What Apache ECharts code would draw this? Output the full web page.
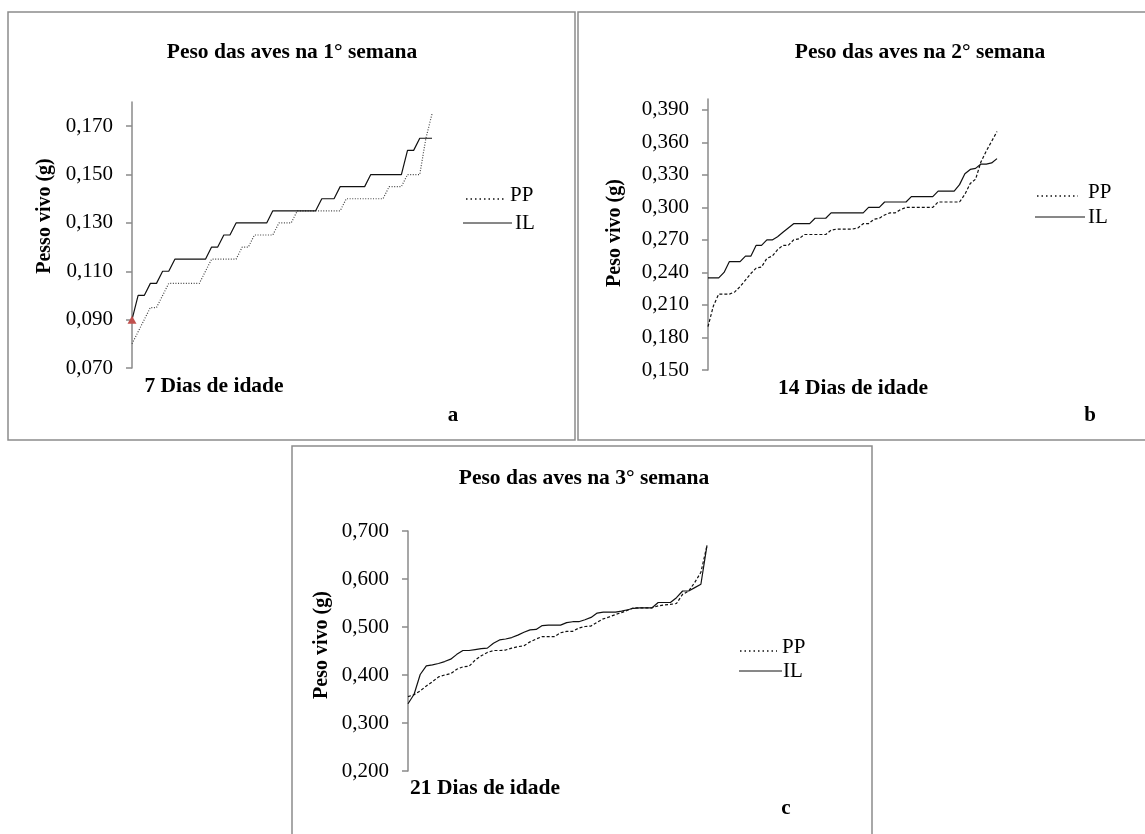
<!DOCTYPE html>
<html><head><meta charset="utf-8">
<script src="https://cdn.jsdelivr.net/npm/echarts@6/dist/echarts.min.js"></script>
<style>html,body{margin:0;padding:0;background:#fff}#c{width:1145px;height:834px}</style>
</head><body><div id="c"></div>
<script>
// ---------- data ----------
const seriesNames = ['PP', 'IL'];
const titles = ['Peso das aves na 1° semana', 'Peso das aves na 2° semana', 'Peso das aves na 3° semana'];
const yNames = ['Pesso vivo (g)', 'Peso vivo (g)', 'Peso vivo (g)'];
const xNames = ['7 Dias de idade', '14 Dias de idade', '21 Dias de idade'];
const panelLetters = ['a', 'b', 'c'];

const ppA = [0.080,0.085,0.090,0.095,0.095,0.100,
  0.105,0.105,0.105,0.105,0.105,0.105,
  0.110,
  0.115,0.115,0.115,0.115,0.115,
  0.120,0.120,
  0.125,0.125,0.125,0.125,
  0.130,0.130,0.130,
  0.135,0.135,0.135,0.135,0.135,0.135,0.135,0.135,
  0.140,0.140,0.140,0.140,0.140,0.140,0.140,
  0.145,0.145,0.145,
  0.150,0.150,0.150,
  0.165,0.175];
const ilA = [0.090,0.100,0.100,0.105,0.105,0.110,0.110,
  0.115,0.115,0.115,0.115,0.115,0.115,
  0.120,0.120,
  0.125,0.125,
  0.130,0.130,0.130,0.130,0.130,0.130,
  0.135,0.135,0.135,0.135,0.135,0.135,0.135,0.135,
  0.140,0.140,0.140,
  0.145,0.145,0.145,0.145,0.145,
  0.150,0.150,0.150,0.150,0.150,0.150,
  0.160,0.160,
  0.165,0.165,0.165];

const ppB = [0.190,0.209,0.220,0.220,0.220,0.222,0.227,0.233,0.239,0.244,
  0.245,0.253,0.255,0.261,0.265,0.265,0.270,0.271,0.275,0.275,
  0.275,0.275,0.275,0.279,0.280,0.280,0.280,0.280,0.281,0.285,
  0.285,0.289,0.290,0.293,0.295,0.295,0.298,0.300,0.300,0.300,
  0.300,0.300,0.300,0.305,0.305,0.305,0.305,0.305,0.312,0.322,
  0.326,0.342,0.352,0.361,0.370];
const ilB = [0.235,0.235,0.235,0.240,0.250,0.250,0.250,0.255,0.255,0.265,
  0.265,0.270,0.270,0.273,0.277,0.281,0.285,0.285,0.285,0.285,
  0.290,0.290,0.290,0.295,0.295,0.295,0.295,0.295,0.295,0.295,
  0.300,0.300,0.300,0.305,0.305,0.305,0.305,0.305,0.310,0.310,
  0.310,0.310,0.310,0.315,0.315,0.315,0.315,0.321,0.331,0.335,
  0.336,0.340,0.340,0.341,0.345];

const ppC = [0.355,0.359,0.367,0.377,0.386,0.396,0.400,0.403,0.412,0.417,
  0.418,0.431,0.440,0.447,0.451,0.451,0.452,0.456,0.459,0.461,
  0.469,0.475,0.480,0.480,0.480,0.488,0.491,0.491,0.498,0.501,
  0.502,0.510,0.517,0.521,0.526,0.530,0.535,0.540,0.540,0.540,
  0.540,0.544,0.546,0.547,0.549,0.568,0.575,0.593,0.614,0.670];
const ilC = [0.340,0.360,0.401,0.419,0.421,0.424,0.428,0.433,0.443,0.451,
  0.451,0.453,0.455,0.456,0.466,0.473,0.475,0.478,0.483,0.489,
  0.494,0.495,0.503,0.504,0.504,0.504,0.509,0.511,0.511,0.515,
  0.520,0.529,0.531,0.531,0.531,0.533,0.536,0.539,0.540,0.540,
  0.540,0.551,0.551,0.551,0.561,0.575,0.575,0.582,0.589,0.670];

const ticksA = [0.07,0.09,0.11,0.13,0.15,0.17];
const ticksB = [0.15,0.18,0.21,0.24,0.27,0.30,0.33,0.36,0.39];
const ticksC = [0.2,0.3,0.4,0.5,0.6,0.7];
const rangeA = [0.07, 0.18];
const rangeB = [0.15, 0.40];
const rangeC = [0.2, 0.7];

// ---------- layout / style ----------
const FONT = '"Liberation Serif", "Times New Roman", serif';
const AXIS_GRAY = '#8a8a8a';
const panels = [
  { pp: ppA, il: ilA, ticks: ticksA, range: rangeA, grid: {left:132, top:102, width:300, height:266}, ppDash:[1,1.6], ppColor:'#444' },
  { pp: ppB, il: ilB, ticks: ticksB, range: rangeB, grid: {left:708, top:99, width:289, height:271}, ppDash:[3,2], ppColor:'#111' },
  { pp: ppC, il: ilC, ticks: ticksC, range: rangeC, grid: {left:408, top:531, width:299, height:240}, ppDash:[3,2], ppColor:'#111' }
];

const fmt = v => v.toFixed(3).replace('.', ',');

const grids = [], xAxes = [], yAxes = [], series = [];
panels.forEach((p, i) => {
  grids.push(Object.assign({containLabel:false}, p.grid));
  xAxes.push({
    type: 'category', gridIndex: i, boundaryGap: false, show: false,
    data: p.pp.map((_, k) => k + 1)
  });
  yAxes.push({
    type: 'value', gridIndex: i, min: p.range[0], max: p.range[1],
    splitLine: {show:false},
    axisLine: {show:true, lineStyle:{color:AXIS_GRAY, width:1.5}},
    axisTick: {show:true, inside:false, length:6, lineStyle:{color:AXIS_GRAY, width:1.5}, customValues: p.ticks},
    axisLabel: {show:true, margin:19, color:'#000', fontFamily:FONT, fontSize:21, formatter: fmt, customValues: p.ticks}
  });
  series.push({
    name: seriesNames[0], type: 'line', xAxisIndex: i, yAxisIndex: i,
    data: p.pp, symbol: 'none', silent: true,
    lineStyle: {color: p.ppColor, width: 1.2, type: p.ppDash}, z: 2
  });
  const il = {
    name: seriesNames[1], type: 'line', xAxisIndex: i, yAxisIndex: i,
    data: p.il, symbol: 'none', silent: true,
    lineStyle: {color: '#111', width: 1.2, type: 'solid'}, z: 3
  };
  if (i === 0) {
    il.markPoint = {
      symbol: 'triangle', symbolSize: [9, 8], silent: true,
      itemStyle: {color: '#c0504d'}, label: {show:false},
      data: [{coord: [0, p.il[0]]}]
    };
  }
  series.push(il);
});

// decorations
const txt = (text, x, y, size, bold, align, extra) => Object.assign({
  type: 'text', x, y, silent: true,
  style: {text, fontFamily: FONT, fontSize: size, fontWeight: bold ? 'bold' : 'normal', fill: '#000',
          textAlign: align || 'center', align: align || 'center',
          textVerticalAlign: 'middle', verticalAlign: 'middle'}
}, extra || {});

const borders = [
  {x:8, y:12, w:567, h:428},
  {x:578, y:12, w:580, h:428},
  {x:292, y:446, w:580, h:400}
];
const titlePos = [[292, 52], [920, 52], [584, 478]];
const yNamePos = [[45, 216], [615, 233], [322, 645]];
const xNamePos = [[214, 386], [853, 388], [485, 788]];
const letterPos = [[453, 416], [1090, 416], [786, 809]];
const legendPos = [
  {pp:[466,505,199], il:[463,512,223], txPP:510, txIL:515},
  {pp:[1037,1078,196], il:[1035,1085,217], txPP:1088, txIL:1088},
  {pp:[740,777,651], il:[739,782,671], txPP:782, txIL:783}
];

const graphic = [];
borders.forEach(b => graphic.push({
  type:'rect', silent:true, shape:{x:b.x, y:b.y, width:b.w, height:b.h},
  style:{fill:'none', stroke:'#8c8c8c', lineWidth:1.5}, z:-1
}));
for (let i = 0; i < 3; i++) {
  graphic.push(txt(titles[i], titlePos[i][0], titlePos[i][1], 21.5, true));
  graphic.push(txt(yNames[i], yNamePos[i][0], yNamePos[i][1], 20, true, 'center', {rotation: Math.PI/2}));
  graphic.push(txt(xNames[i], xNamePos[i][0], xNamePos[i][1], 21.5, true));
  graphic.push(txt(panelLetters[i], letterPos[i][0], letterPos[i][1], 21, true));
  const L = legendPos[i];
  graphic.push({type:'line', silent:true, shape:{x1:L.pp[0], y1:L.pp[2], x2:L.pp[1], y2:L.pp[2]},
    style:{stroke:'#111', lineWidth:1.5, lineDash:[1.5,3]}});
  graphic.push({type:'line', silent:true, shape:{x1:L.il[0], y1:L.il[2], x2:L.il[1], y2:L.il[2]},
    style:{stroke:'#111', lineWidth:1}});
  graphic.push(txt(seriesNames[0], L.txPP, L.pp[2] - 4, 21, false, 'left'));
  graphic.push(txt(seriesNames[1], L.txIL, L.il[2], 21, false, 'left'));
}

const chart = echarts.init(document.getElementById('c'), null, {renderer:'canvas'});
chart.setOption({
  animation: false,
  backgroundColor: '#fff',
  grid: grids, xAxis: xAxes, yAxis: yAxes, series, graphic
});
</script></body></html>
